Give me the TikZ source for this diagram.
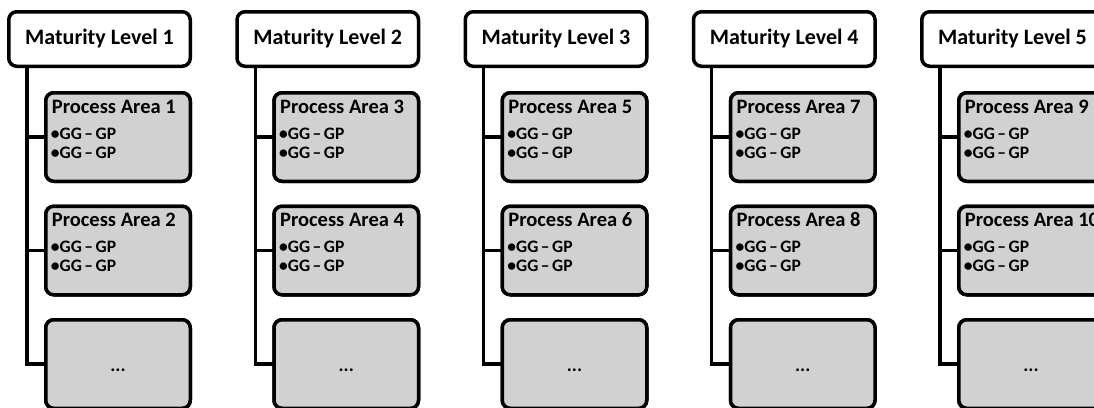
\documentclass[tikz,border=0pt]{standalone}
\usepackage{fontspec}
\setmainfont{Carlito}
\definecolor{pagray}{RGB}{209,209,209}
\begin{document}
\begin{tikzpicture}[x=1pt,y=-1pt,
  lvl/.style={draw=black, line width=3.5pt, rounded corners=8pt, fill=white,
    minimum width=181.5pt, minimum height=54.5pt, inner sep=0pt, outer sep=0pt,
    font=\bfseries\fontsize{22}{26}\selectfont},
  pabox/.style={draw=black, line width=3.5pt, rounded corners=8pt, fill=pagray,
    minimum width=144.5pt, minimum height=88.5pt, inner sep=0pt, outer sep=0pt,
    anchor=north west},
  patitle/.style={anchor=base west, inner sep=0pt, font=\bfseries\fontsize{20.5}{24}\selectfont},
  paitem/.style={anchor=base west, inner sep=0pt, font=\bfseries\fontsize{17.5}{20}\selectfont},
  dots/.style={anchor=base, inner sep=0pt, font=\bfseries\fontsize{19}{22}\selectfont},
  trunk/.style={line width=3.2pt}
]
\useasboundingbox (0,0) rectangle (1094,407);
\clip (0,0) rectangle (1094,407);
\foreach \i in {1,...,5}{
  \pgfmathsetmacro\xo{(\i-1)*228.25}
  \pgfmathtruncatemacro\pa{2*\i-1}
  \pgfmathtruncatemacro\pb{2*\i}
  \coordinate (T\i) at (\xo+27,66);
  \node[pabox] (A\i) at (\xo+45.75,92.75) {};
  \node[pabox] (B\i) at (\xo+45.75,206.25) {};
  \node[pabox] (C\i) at (\xo+45.75,319.75) {};
  \draw[trunk] (T\i) |- (C\i.west);
  \draw[trunk] (A\i.west) -- (A\i.west -| T\i);
  \draw[trunk] (B\i.west) -- (B\i.west -| T\i);
  \node[pabox] at (A\i.north west) {};
  \node[pabox] at (B\i.north west) {};
  \node[pabox] at (C\i.north west) {};
  \node[lvl] (L\i) at (\xo+99.5,39) {Maturity Level \i};
  \node[patitle] (A\i t) at ([xshift=6pt,yshift=-20.5pt]A\i.north west) {Process Area \pa};
  \node[paitem] (A\i x) at ([xshift=5pt,yshift=-46.5pt]A\i.north west) {•GG\hspace{2.5pt}–\hspace{2.5pt}GP};
  \node[paitem] (A\i y) at ([xshift=5pt,yshift=-65.5pt]A\i.north west) {•GG\hspace{2.5pt}–\hspace{2.5pt}GP};
  \node[patitle] (B\i t) at ([xshift=6pt,yshift=-20.5pt]B\i.north west) {Process Area \pb};
  \node[paitem] (B\i x) at ([xshift=5pt,yshift=-46.5pt]B\i.north west) {•GG\hspace{2.5pt}–\hspace{2.5pt}GP};
  \node[paitem] (B\i y) at ([xshift=5pt,yshift=-65.5pt]B\i.north west) {•GG\hspace{2.5pt}–\hspace{2.5pt}GP};
  \node[dots] (C\i d) at ([xshift=72.25pt,yshift=-52pt]C\i.north west) {...};
}
\end{tikzpicture}
\end{document}
